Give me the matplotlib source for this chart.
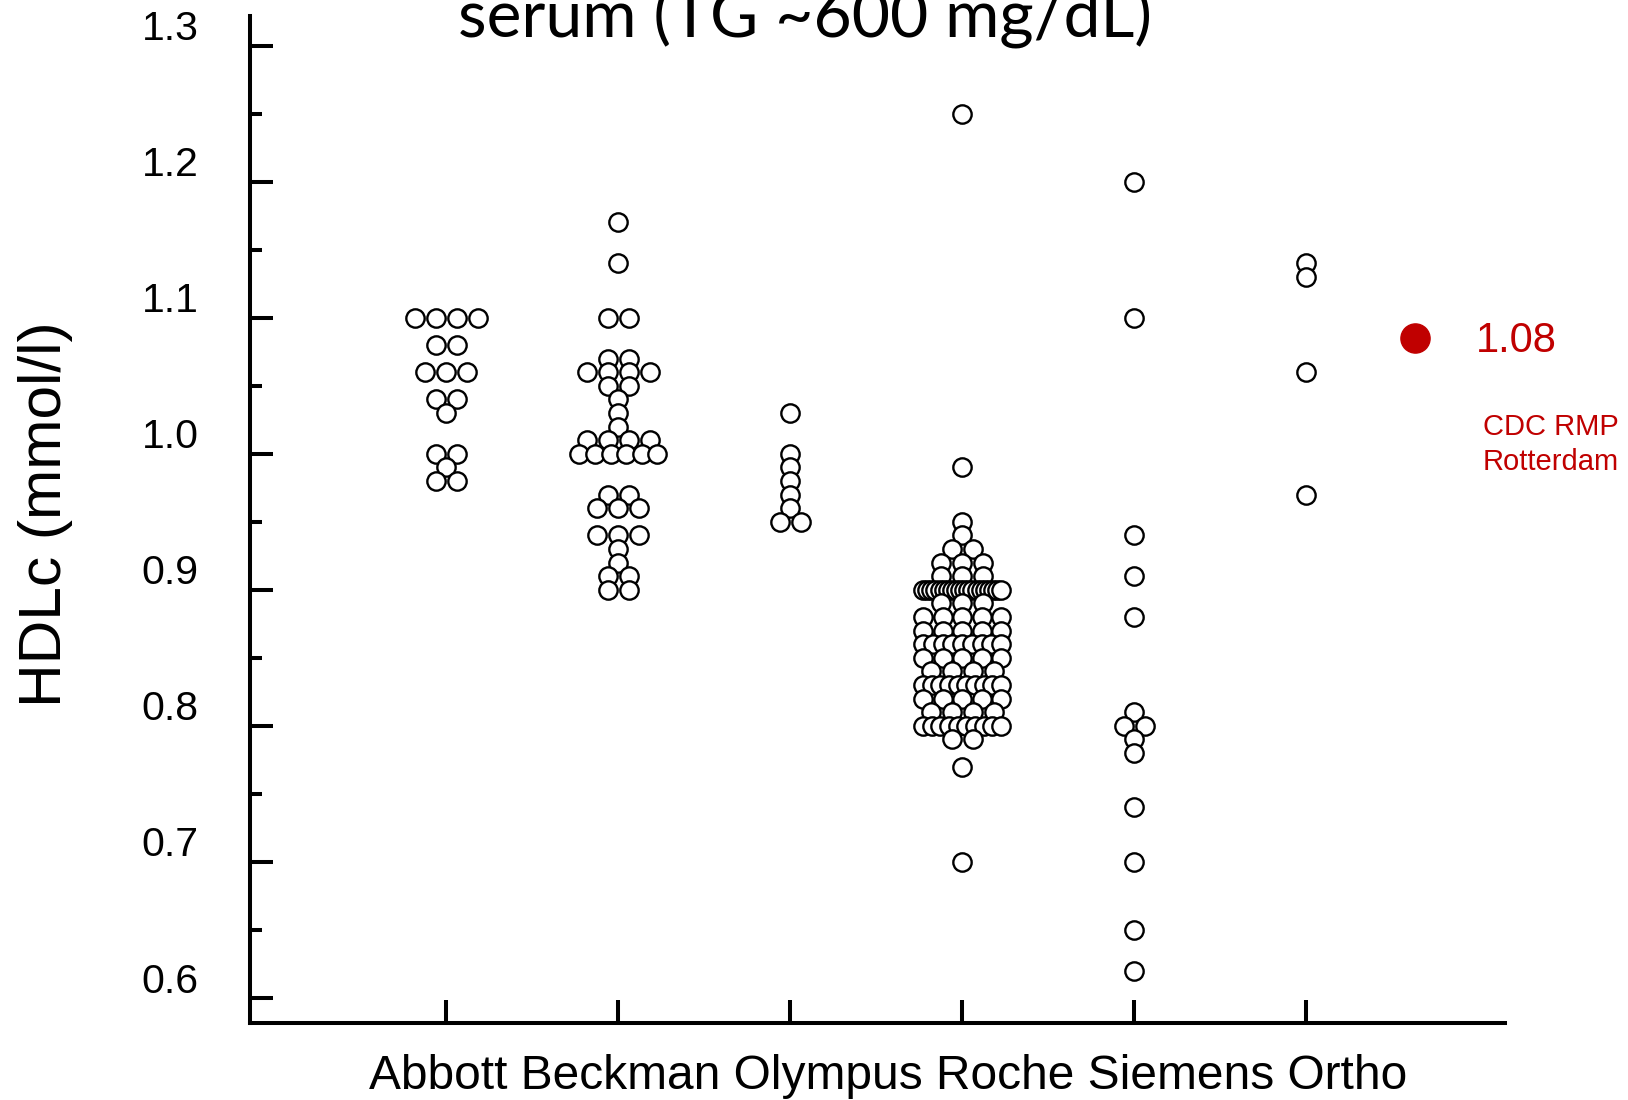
import numpy as np
import matplotlib
matplotlib.use('Agg')
import matplotlib.pyplot as plt

W, H = 1628, 1100

categories = ['Abbott', 'Beckman', 'Olympus', 'Roche', 'Siemens', 'Ortho']

# HDLc values (mmol/l) and how many labs reported each value
abbott_vals = [1.10, 1.08, 1.06, 1.04, 1.03, 1.00, 0.99, 0.98]
abbott_cnts = [4, 2, 3, 2, 1, 2, 1, 2]

beckman_vals = [1.17, 1.14, 1.10, 1.07, 1.06, 1.05, 1.04, 1.03, 1.02, 1.01,
                1.00, 0.97, 0.96, 0.94, 0.93, 0.92, 0.91, 0.90]
beckman_cnts = [1, 1, 2, 2, 4, 2, 1, 1, 1, 4, 6, 2, 3, 3, 1, 1, 2, 2]

olympus_vals = [1.03, 1.00, 0.99, 0.98, 0.97, 0.96, 0.95]
olympus_cnts = [1, 1, 1, 1, 1, 1, 2]

roche_vals = [1.25, 0.99, 0.95, 0.94, 0.93, 0.92, 0.91, 0.90, 0.89, 0.88,
              0.87, 0.86, 0.85, 0.84, 0.83, 0.82, 0.81, 0.80, 0.79, 0.77, 0.70]
roche_cnts = [1, 1, 1, 1, 2, 3, 3, 20, 3, 5, 5, 9, 5, 4, 10, 5, 4, 10, 2, 1, 1]

siemens_vals = [1.20, 1.10, 0.94, 0.91, 0.88, 0.81, 0.80, 0.79, 0.78, 0.74,
                0.70, 0.65, 0.62]
siemens_cnts = [1, 1, 1, 1, 1, 1, 2, 1, 1, 1, 1, 1, 1]

ortho_vals = [1.14, 1.13, 1.06, 0.97]
ortho_cnts = [1, 1, 1, 1]

groups = [(abbott_vals, abbott_cnts), (beckman_vals, beckman_cnts),
          (olympus_vals, olympus_cnts), (roche_vals, roche_cnts),
          (siemens_vals, siemens_cnts), (ortho_vals, ortho_cnts)]

cdc_value = 1.085
cdc_x = 6.635

yticks = [0.6, 0.7, 0.8, 0.9, 1.0, 1.1, 1.2, 1.3]
yminor = [0.65, 0.75, 0.85, 0.95, 1.05, 1.15, 1.25]

RED = '#C00000'

fig = plt.figure(figsize=(W / 100, H / 100), dpi=100)
ax = fig.add_axes([250 / W, 1 - 1023 / H, (1505 - 250) / W, (1023 - 16) / H])
ax.set_xlim(-0.143, 7.158)
ax.set_ylim(0.5815, 1.3218)

# marker spacing in data units
px_x = ax.transData.transform((1, 0))[0] - ax.transData.transform((0, 0))[0]
dot = 21 / px_x
maxspan = 78 / px_x

for i, (vals, cnts) in enumerate(groups):
    pos = i + 1
    for v, n in sorted(zip(vals, cnts), reverse=True):
        step = dot if n < 2 else min(dot, maxspan / (n - 1))
        offs = (np.arange(n) - (n - 1) / 2) * step
        ax.plot(pos + offs, np.full(n, v), 'o', ms=13.2, mfc='white',
                mec='black', mew=1.7, ls='none', clip_on=False)

ax.plot(cdc_x, cdc_value, 'o', color=RED, ms=21, clip_on=False)

for s in ['top', 'right']:
    ax.spines[s].set_visible(False)
for s in ['left', 'bottom']:
    ax.spines[s].set_linewidth(2.9)

ax.set_yticks(yticks)
ax.set_yticks(yminor, minor=True)
ax.set_yticklabels([])
ax.set_xticks(range(1, 7))
ax.set_xticklabels([])
ax.tick_params(axis='both', which='major', direction='in', length=16.5, width=2.9)
ax.tick_params(axis='y', which='minor', direction='in', length=8.5, width=2.9)

ytrans = ax.get_yaxis_transform()
for v in yticks:
    ax.text(-0.041, v + 0.012, f'{v:.1f}', transform=ytrans, ha='right',
            va='center', fontsize=29.5, family='Liberation Sans')

fig.text(46 / W, 1 - 514 / H, 'HDLc (mmol/l)', rotation=90, ha='center',
         va='center', fontsize=43.5, family='Liberation Sans')
fig.text(888 / W, 1 - 1089 / H, ' '.join(categories), ha='center',
         va='baseline', fontsize=34.5, family='Liberation Sans')

fig.text(805 / W, 1 - 36 / H, 'serum (TG ~600 mg/dL)', ha='center',
         va='baseline', fontsize=47.5, family='Lato')

fig.text(1476 / W, 1 - 341 / H, '1.08', ha='left', va='center',
         fontsize=30, color=RED, family='Liberation Sans')
fig.text(1483 / W, 1 - 427 / H, 'CDC RMP', ha='left', va='center',
         fontsize=21, color=RED, family='Liberation Sans')
fig.text(1483 / W, 1 - 462 / H, 'Rotterdam', ha='left', va='center',
         fontsize=21, color=RED, family='Liberation Sans')

fig.savefig('out.png', dpi=100)
